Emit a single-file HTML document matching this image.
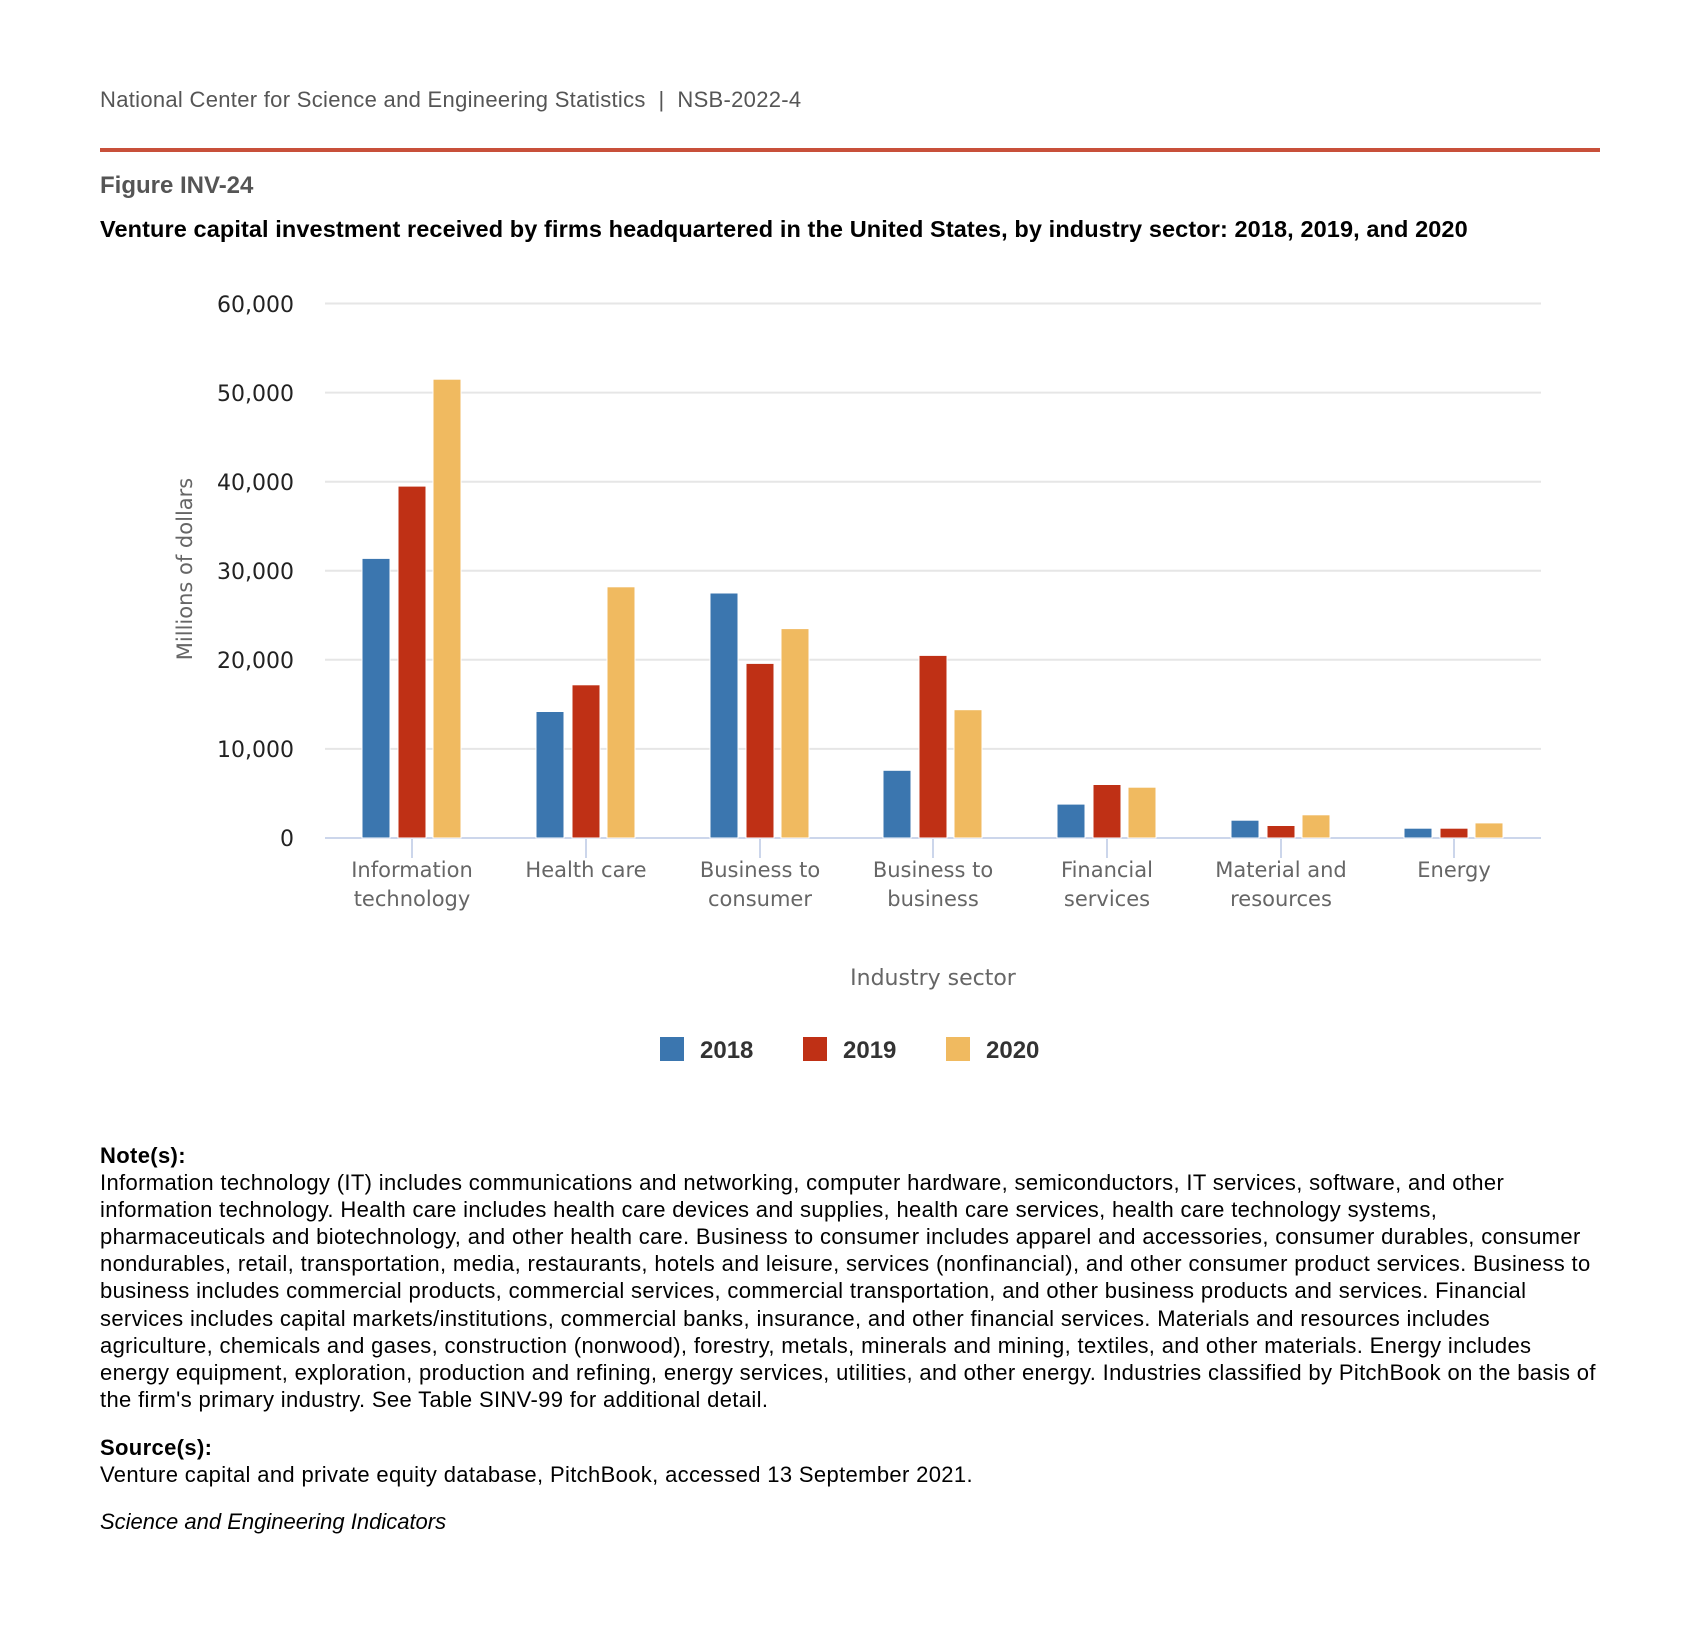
<!DOCTYPE html>
<html><head><meta charset="utf-8"><style>
body{margin:0;background:#fff;width:1699px;height:1644px;overflow:hidden;font-family:"Liberation Sans",sans-serif;position:relative}
.a{position:absolute;white-space:nowrap}
</style></head><body>
<div class="a" style="left:100px;top:87px;font-size:22px;letter-spacing:0.3px;color:#555">National Center for Science and Engineering Statistics &nbsp;|&nbsp; NSB-2022-4</div>
<div class="a" style="left:100px;top:148px;width:1500px;height:4px;background:#c8503a"></div>
<div class="a" style="left:100px;top:172px;font-size:24px;font-weight:bold;color:#555">Figure INV-24</div>
<div class="a" style="left:100px;top:216px;font-size:23.5px;letter-spacing:0.1px;font-weight:bold;color:#000">Venture capital investment received by firms headquartered in the United States, by industry sector: 2018, 2019, and 2020</div>
<svg class="a" style="left:0;top:0" width="1699" height="1100" font-family="Liberation Sans, sans-serif">
<g stroke="#e6e6e6" stroke-width="2">
<line x1="325" x2="1541" y1="303.5" y2="303.5"/><line x1="325" x2="1541" y1="392.6" y2="392.6"/><line x1="325" x2="1541" y1="481.7" y2="481.7"/><line x1="325" x2="1541" y1="570.8" y2="570.8"/><line x1="325" x2="1541" y1="659.8" y2="659.8"/><line x1="325" x2="1541" y1="748.9" y2="748.9"/>
</g>
<g font-size="22" font-family="DejaVu Sans, sans-serif" fill="#222" text-anchor="end">
<text x="294" y="312">60,000</text><text x="294" y="401">50,000</text><text x="294" y="490">40,000</text><text x="294" y="579">30,000</text><text x="294" y="668">20,000</text><text x="294" y="757">10,000</text><text x="294" y="846">0</text>
</g>
<text transform="translate(192,569) rotate(-90)" font-family="DejaVu Sans, sans-serif" font-size="21" fill="#666" text-anchor="middle">Millions of dollars</text>
<line x1="325" x2="1541" y1="838" y2="838" stroke="#ccd6eb" stroke-width="2"/>
<g stroke="#ccd6eb" stroke-width="2">
<line x1="412" x2="412" y1="838" y2="858"/><line x1="586" x2="586" y1="838" y2="858"/><line x1="760" x2="760" y1="838" y2="858"/><line x1="933" x2="933" y1="838" y2="858"/><line x1="1107" x2="1107" y1="838" y2="858"/><line x1="1281" x2="1281" y1="838" y2="858"/><line x1="1454" x2="1454" y1="838" y2="858"/>
</g>
<g font-size="21" font-family="DejaVu Sans, sans-serif" fill="#666" text-anchor="middle">
<text x="412" y="877">Information</text><text x="412" y="906">technology</text>
<text x="586" y="877">Health care</text>
<text x="760" y="877">Business to</text><text x="760" y="906">consumer</text>
<text x="933" y="877">Business to</text><text x="933" y="906">business</text>
<text x="1107" y="877">Financial</text><text x="1107" y="906">services</text>
<text x="1281" y="877">Material and</text><text x="1281" y="906">resources</text>
<text x="1454" y="877">Energy</text>
<text x="933" y="985" font-size="22">Industry sector</text>
</g>
<rect x="660" y="1037" width="24" height="24" fill="#3b76af"/><text x="700" y="1058" font-size="24" font-weight="bold" fill="#333">2018</text>
<rect x="803" y="1037" width="24" height="24" fill="#bf3015"/><text x="843" y="1058" font-size="24" font-weight="bold" fill="#333">2019</text>
<rect x="946" y="1037" width="24" height="24" fill="#f0ba60"/><text x="986" y="1058" font-size="24" font-weight="bold" fill="#333">2020</text>
<g stroke="#fff" stroke-width="1">
<rect x="362" y="558.4" width="28" height="279.6" fill="#3b76af"/><rect x="398" y="486.1" width="28" height="351.9" fill="#bf3015"/><rect x="433" y="379.2" width="28" height="458.8" fill="#f0ba60"/>
<rect x="536" y="711.5" width="28" height="126.5" fill="#3b76af"/><rect x="572" y="684.8" width="28" height="153.2" fill="#bf3015"/><rect x="607" y="586.8" width="28" height="251.2" fill="#f0ba60"/>
<rect x="710" y="593" width="28" height="245" fill="#3b76af"/><rect x="746" y="663.4" width="28" height="174.6" fill="#bf3015"/><rect x="781" y="628.6" width="28" height="209.4" fill="#f0ba60"/>
<rect x="883" y="770.3" width="28" height="67.7" fill="#3b76af"/><rect x="919" y="655.4" width="28" height="182.6" fill="#bf3015"/><rect x="954" y="709.7" width="28" height="128.3" fill="#f0ba60"/>
<rect x="1057" y="804.1" width="28" height="33.9" fill="#3b76af"/><rect x="1093" y="784.5" width="28" height="53.5" fill="#bf3015"/><rect x="1128" y="787.2" width="28" height="50.8" fill="#f0ba60"/>
<rect x="1231" y="820.2" width="28" height="17.8" fill="#3b76af"/><rect x="1267" y="825.5" width="28" height="12.5" fill="#bf3015"/><rect x="1302" y="814.8" width="28" height="23.2" fill="#f0ba60"/>
<rect x="1404" y="828.2" width="28" height="9.8" fill="#3b76af"/><rect x="1440" y="828.2" width="28" height="9.8" fill="#bf3015"/><rect x="1475" y="822.9" width="28" height="15.1" fill="#f0ba60"/>
</g>
</svg>
<div class="a" style="left:100px;top:1142px;font-size:22px;letter-spacing:0.35px;line-height:27.1px;color:#000">
<b>Note(s):</b><br>
Information technology (IT) includes communications and networking, computer hardware, semiconductors, IT services, software, and other<br>
information technology. Health care includes health care devices and supplies, health care services, health care technology systems,<br>
pharmaceuticals and biotechnology, and other health care. Business to consumer includes apparel and accessories, consumer durables, consumer<br>
nondurables, retail, transportation, media, restaurants, hotels and leisure, services (nonfinancial), and other consumer product services. Business to<br>
business includes commercial products, commercial services, commercial transportation, and other business products and services. Financial<br>
services includes capital markets/institutions, commercial banks, insurance, and other financial services. Materials and resources includes<br>
agriculture, chemicals and gases, construction (nonwood), forestry, metals, minerals and mining, textiles, and other materials. Energy includes<br>
energy equipment, exploration, production and refining, energy services, utilities, and other energy. Industries classified by PitchBook on the basis of<br>
the firm's primary industry. See Table SINV-99 for additional detail.
</div>
<div class="a" style="left:100px;top:1434px;font-size:22px;letter-spacing:0.35px;line-height:27.1px;color:#000"><b>Source(s):</b><br>Venture capital and private equity database, PitchBook, accessed 13 September 2021.</div>
<div class="a" style="left:100px;top:1509px;font-size:22px;font-style:italic;color:#000">Science and Engineering Indicators</div>
</body></html>
